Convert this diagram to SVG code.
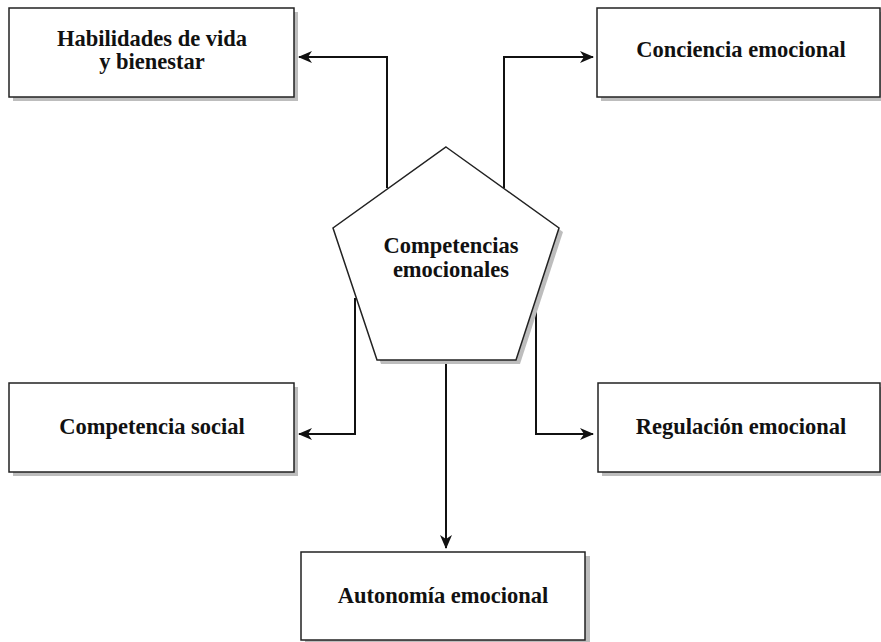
<svg xmlns="http://www.w3.org/2000/svg" width="881" height="642" viewBox="0 0 881 642">
<style>
.box{fill:#fff;stroke:#222;stroke-width:1.5}
.sh{fill:#bdbdbd}
.t{font-family:"Liberation Serif","Times New Roman",serif;font-weight:bold;font-size:22.5px;fill:#111;text-anchor:middle}
.c{fill:none;stroke:#111;stroke-width:2}
</style>
<defs>
<marker id="ah" viewBox="0 0 14 12" refX="13" refY="6" markerWidth="14" markerHeight="12" markerUnits="userSpaceOnUse" orient="auto">
<path d="M0,0 L14,6 L0,12 L4,6 Z" fill="#111"/>
</marker>
</defs>
<rect width="881" height="642" fill="#fff"/>
<g id="connectors">
<path class="c" d="M387,188 V57 H299" marker-end="url(#ah)"/>
<path class="c" d="M504,188 V57 H593" marker-end="url(#ah)"/>
<path class="c" d="M355,298 V434 H299" marker-end="url(#ah)"/>
<path class="c" d="M536,298 V434 H593" marker-end="url(#ah)"/>
<path class="c" d="M446,360 V548" marker-end="url(#ah)"/>
</g>
<g id="habilidades">
<rect class="sh" x="13" y="12" width="285" height="89"/>
<rect class="box" x="9" y="8" width="285" height="89"/>
<text class="t" x="152" y="46">Habilidades de vida</text>
<text class="t" x="152" y="69">y bienestar</text>
</g>
<g id="conciencia">
<rect class="sh" x="601" y="12" width="285" height="89"/>
<rect class="box" x="597" y="8" width="283" height="89"/>
<text class="t" x="741" y="57">Conciencia emocional</text>
</g>
<g id="competencias">
<polygon class="sh" points="450,151 563,232 520,364 381,364 337,232"/>
<polygon class="box" points="446,147 559,228 516,360 377,360 333,228"/>
<text class="t" x="451" y="253">Competencias</text>
<text class="t" x="451" y="277">emocionales</text>
</g>
<g id="social">
<rect class="sh" x="13" y="387" width="285" height="89"/>
<rect class="box" x="9" y="383" width="285" height="89"/>
<text class="t" x="152" y="434">Competencia social</text>
</g>
<g id="regulacion">
<rect class="sh" x="602" y="387" width="285" height="89"/>
<rect class="box" x="598" y="383" width="282" height="89"/>
<text class="t" x="741" y="434">Regulación emocional</text>
</g>
<g id="autonomia">
<rect class="sh" x="305" y="556" width="285" height="89"/>
<rect class="box" x="301" y="552" width="284" height="88"/>
<text class="t" x="443" y="603">Autonomía emocional</text>
</g>
</svg>
